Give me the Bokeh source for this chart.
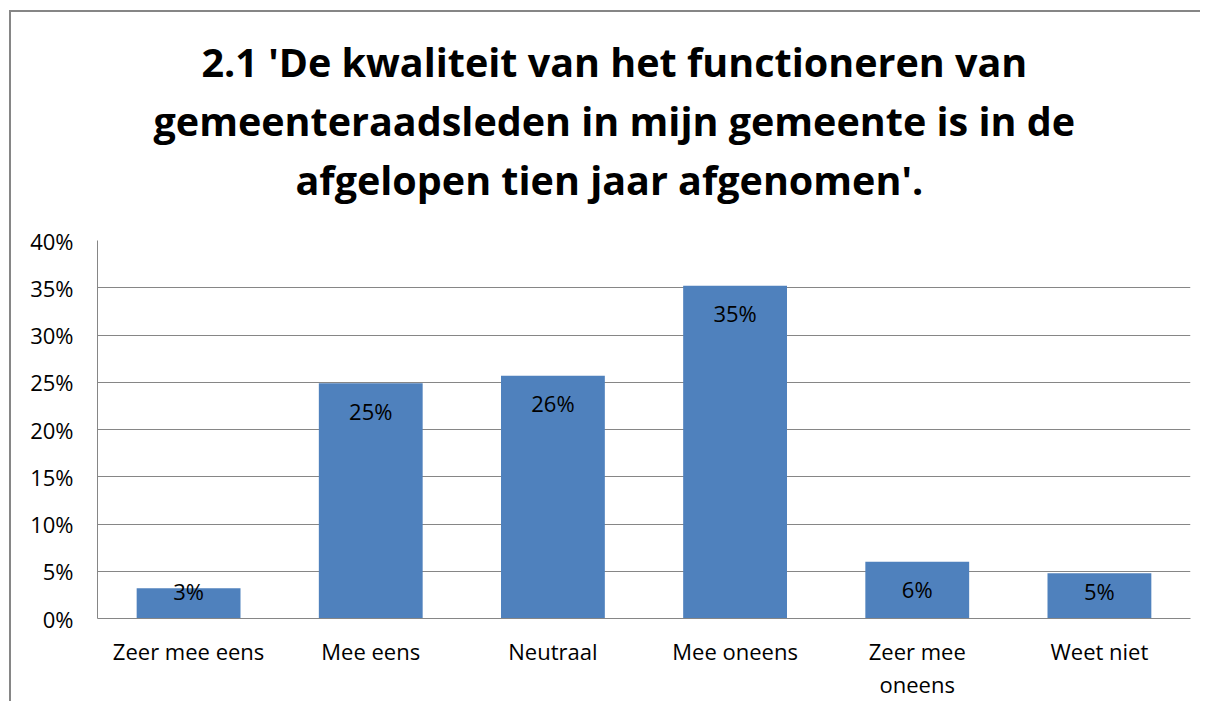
from bokeh.plotting import figure
from bokeh.models import ColumnDataSource, Title, FixedTicker, LabelSet, LinearAxis, Range1d
from bokeh.embed import file_html
from bokeh.resources import INLINE
from bokeh.core.properties import value

categories = ["Zeer mee eens", "Mee eens", "Neutraal", "Mee oneens", "Zeer mee oneens", "Weet niet"]
category_lines = [["Zeer mee eens"], ["Mee eens"], ["Neutraal"], ["Mee oneens"],
                  ["Zeer mee", "oneens"], ["Weet niet"]]
values = [3.2, 24.9, 25.7, 35.2, 6.0, 4.8]
labels = ["3%", "25%", "26%", "35%", "6%", "5%"]
y_ticks = [0, 5, 10, 15, 20, 25, 30, 35, 40]
y_tick_labels = {t: f"{t}%" for t in y_ticks}
title_lines = [
    "2.1 'De kwaliteit van het functioneren van",
    "gemeenteraadsleden in mijn gemeente is in de",
    "afgelopen tien jaar afgenomen'.",
]

FONT = "Open Sans"
GRAY = "#868686"
BAR = "#4F81BD"

xpos = list(range(len(categories)))
label_y = [max(v - 2.9, 2.9) for v in values]
src = ColumnDataSource(dict(x=xpos, cat=categories, val=values, lab=labels, ly=label_y))

p = figure(
    x_range=Range1d(-0.5, len(categories) - 0.5), y_range=Range1d(0, 40),
    width=1200, height=701,
    output_backend="svg", toolbar_location=None, x_axis_location=None,
    min_border_left=97, min_border_right=10, min_border_bottom=83, min_border_top=240,
)
p.title = None

# spacer between title and plot area, then three title lines (bottom to top)
p.add_layout(Title(text=" ", text_font_size="1px", standoff=31), "above")
title_offsets = [104, 56, 198]
title_standoffs = [0, 6, 0]
for line, off, so in reversed(list(zip(title_lines, title_offsets, title_standoffs))):
    p.add_layout(Title(text=line, align="left", offset=off, text_font=FONT,
                       text_font_size="39.5px", text_font_style="bold",
                       text_color="black", standoff=so), "above")

p.vbar(x="x", top="val", width=0.57, source=src, fill_color=BAR, line_color=None)

p.add_layout(LabelSet(x="x", y="ly", text="lab", source=src, text_align="center",
                      text_baseline="middle", text_font=value(FONT),
                      text_font_size="22px", text_color="black"))

p.yaxis.ticker = FixedTicker(ticks=y_ticks)
p.yaxis.major_label_overrides = y_tick_labels
p.yaxis.major_tick_out = 0
p.yaxis.major_tick_in = 0
p.yaxis.minor_tick_out = 0
p.yaxis.minor_tick_in = 0
p.yaxis.axis_line_color = GRAY
p.yaxis.major_label_standoff = 24
p.yaxis.major_label_text_font = FONT
p.yaxis.major_label_text_font_size = "22px"
p.yaxis.major_label_text_color = "black"


def cat_axis(row, standoff, line_color):
    ticks = [i for i, ls in zip(xpos, category_lines) if len(ls) > row]
    ax = LinearAxis(
        ticker=FixedTicker(ticks=ticks),
        major_label_overrides={i: ls[row] for i, ls in zip(xpos, category_lines) if len(ls) > row},
        major_tick_out=0, major_tick_in=0, minor_tick_out=0, minor_tick_in=0,
        axis_line_color=line_color, major_label_standoff=standoff,
        major_label_text_font=FONT, major_label_text_font_size="22px",
        major_label_text_color="black",
    )
    p.add_layout(ax, "below")


cat_axis(0, 17, GRAY)
cat_axis(1, 0, None)

p.xgrid.grid_line_color = None
p.ygrid.grid_line_color = GRAY
p.ygrid.grid_line_width = 1
p.outline_line_color = None
p.border_fill_color = None
p.styles = {
    "background-image": "linear-gradient(#868686,#868686), linear-gradient(#868686,#868686)",
    "background-size": "2px 100%, 100% 2px",
    "background-position": "9px 10px, 9px 10px",
    "background-repeat": "no-repeat",
}

open("out.html", "w").write(file_html(p, INLINE))
